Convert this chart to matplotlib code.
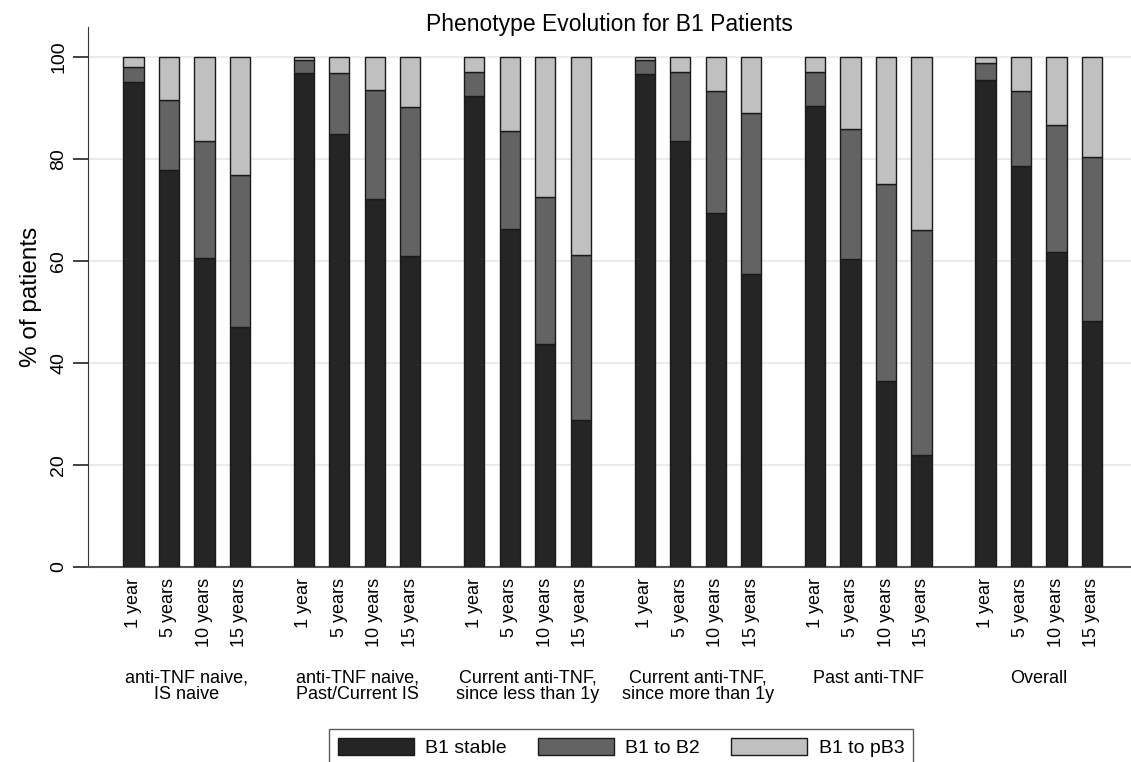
import numpy as np
import matplotlib.pyplot as plt

plt.rcParams['font.family'] = ['Liberation Sans', 'DejaVu Sans']

# Data (cumulative % of patients)
groups = ['anti-TNF naive,\nIS naive', 'anti-TNF naive,\nPast/Current IS',
          'Current anti-TNF,\nsince less than 1y', 'Current anti-TNF,\nsince more than 1y',
          'Past anti-TNF', 'Overall']
timepoints = ['1 year', '5 years', '10 years', '15 years']

b1_stable = [95.0, 77.7, 60.6, 47.0,
             96.8, 84.9, 72.0, 61.0,
             92.2, 66.2, 43.7, 28.8,
             96.5, 83.4, 69.3, 57.4,
             90.4, 60.4, 36.4, 22.0,
             95.5, 78.6, 61.7, 48.2]
b1_to_b2_top = [98.0, 91.4, 83.5, 76.8,
                99.3, 96.7, 93.4, 90.1,
                96.9, 85.4, 72.5, 61.1,
                99.3, 97.0, 93.2, 88.9,
                96.9, 85.9, 75.0, 66.1,
                98.7, 93.2, 86.6, 80.4]
total = [100.0] * 24

b1_stable = np.array(b1_stable)
b1_to_b2 = np.array(b1_to_b2_top) - b1_stable
b1_to_pb3 = np.array(total) - np.array(b1_to_b2_top)

# bar positions: 4 bars per group, gap between groups
group_step = 4.8
pos = np.array([g * group_step + i for g in range(len(groups)) for i in range(len(timepoints))])

fig = plt.figure(figsize=(11.31, 7.62), dpi=100)
ax = fig.add_axes([0.0778, 0.256, 0.9222, 0.7086])

w = 0.57
ec = '#1a1a1a'
ax.bar(pos, b1_stable, w, color='#252525', edgecolor=ec, linewidth=1, label='B1 stable', zorder=3)
ax.bar(pos, b1_to_b2, w, bottom=b1_stable, color='#636363', edgecolor=ec, linewidth=1,
       label='B1 to B2', zorder=3)
ax.bar(pos, b1_to_pb3, w, bottom=b1_stable + b1_to_b2, color='#c0c0c0', edgecolor=ec,
       linewidth=1, label='B1 to pB3', zorder=3)

ax.set_xlim(-1.28, 28.1)
ax.set_ylim(0, 105.8)
ax.set_yticks([0, 20, 40, 60, 80, 100])
ax.set_yticklabels(['0', '20', '40', '60', '80', '100'], rotation=90, va='center', fontsize=14)
ax.yaxis.grid(True, color='#ebebeb', linewidth=1.5, zorder=0)
ax.tick_params(axis='y', direction='out', length=11, width=1.2, color='#222222', pad=4)

ax.set_xticks(pos)
ax.set_xticklabels(timepoints * len(groups), rotation=90, fontsize=13)
ax.tick_params(axis='x', length=0, pad=8)

for s in ['top', 'right']:
    ax.spines[s].set_visible(False)
ax.spines['left'].set_color('#333333')
ax.spines['bottom'].set_color('#555555')
ax.spines['bottom'].set_linewidth(1.5)

ax.set_ylabel('% of patients', fontsize=17.5, labelpad=6)
fig.text(0.539, 1 - 25 / 762, 'Phenotype Evolution for B1 Patients', ha='center', va='center',
         fontsize=16.5)

# group labels under the tick labels
for g, name in enumerate(groups):
    cx = g * group_step + 1.5
    ax.text(cx, -0.19, name, transform=ax.get_xaxis_transform(), ha='center', va='top',
            fontsize=13, linespacing=0.95)

leg = fig.legend(loc='upper left', bbox_to_anchor=(329 / 1131, 1 - 729 / 762), ncol=3, fontsize=14,
                 frameon=True, fancybox=False, edgecolor='#333333', handlelength=3.9,
                 handleheight=1.0, columnspacing=1.6, borderpad=0.45, handletextpad=0.6,
                 borderaxespad=0)
leg.get_frame().set_linewidth(1)

fig.savefig('out.png', dpi=100)
